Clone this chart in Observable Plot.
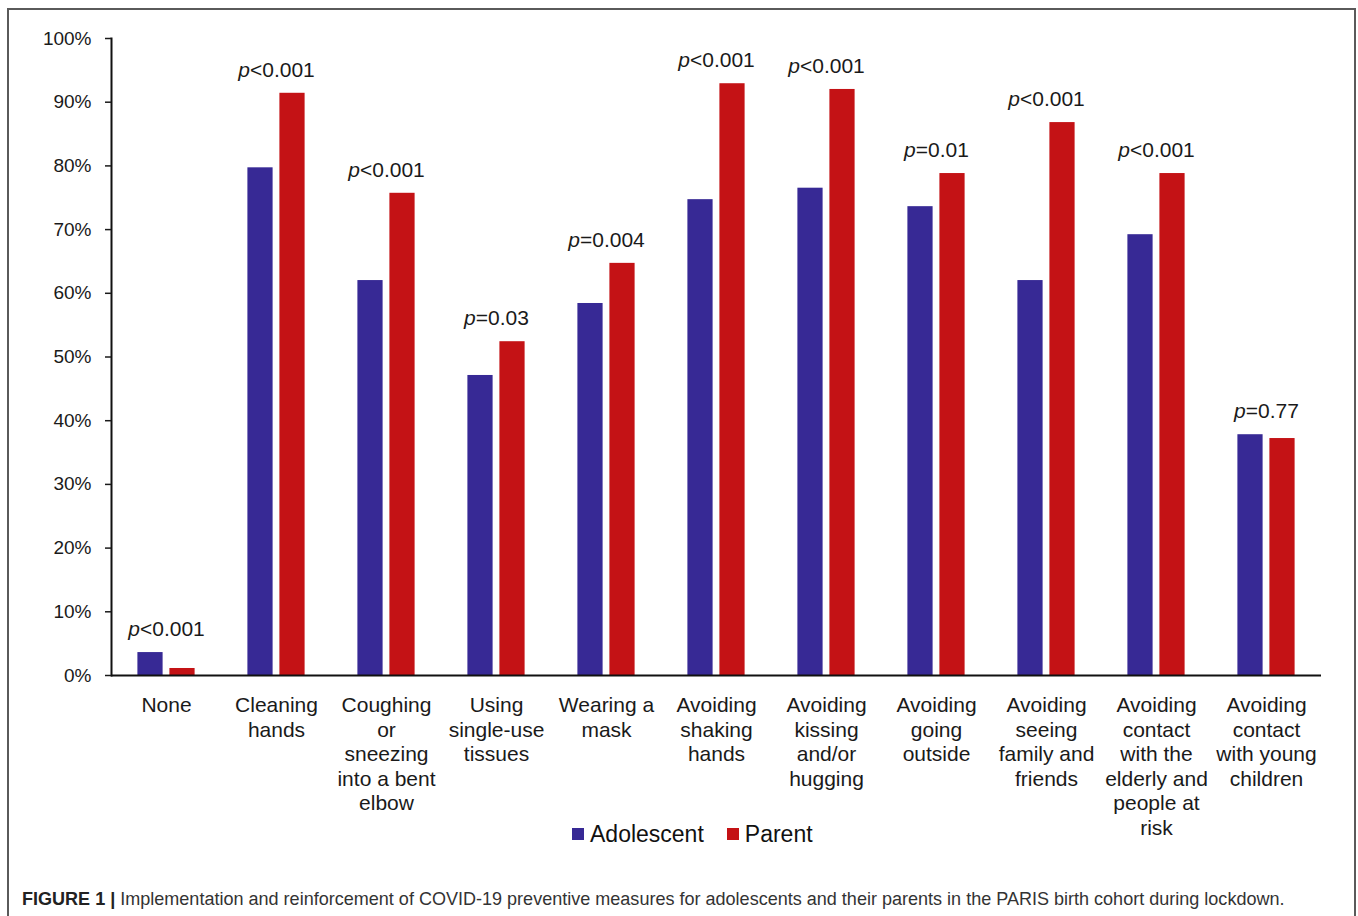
<!DOCTYPE html>
<html>
<head>
<meta charset="utf-8">
<script src="https://cdn.jsdelivr.net/npm/d3@7"></script>
<script src="https://cdn.jsdelivr.net/npm/@observablehq/plot@0.6"></script>
<style>
  html, body { margin: 0; padding: 0; background: #fff; }
  #wrap { position: relative; width: 1358px; height: 916px; overflow: hidden; }
  #frame { position: absolute; left: 7px; top: 8px; width: 1349px; height: 940px;
           border: 2px solid #5a5a5a; border-bottom: none; box-sizing: border-box; }
  #chart { position: absolute; left: 0; top: 0; }
  #legend { position: absolute; left: 572px; top: 822px; display: flex; align-items: center;
            font-family: "Liberation Sans", Arial, sans-serif; font-size: 23px; line-height: 24px; color: #111; }
  #legend .sw { display: inline-block; width: 12px; height: 12px; margin-right: 6px; }
  #legend .item { display: flex; align-items: center; margin-right: 23px; }
  #caption { position: absolute; left: 22px; top: 889px; font-family: "Liberation Sans", Arial, sans-serif;
             font-size: 18.05px; line-height: 20px; color: #333; white-space: nowrap; }
  #caption b { color: #222; }
</style>
</head>
<body>
<div id="wrap">
  <div id="frame"></div>
  <div id="chart"></div>
  <div id="legend"></div>
  <div id="caption"><b>FIGURE 1 |</b> Implementation and reinforcement of COVID-19 preventive measures for adolescents and their parents in the PARIS birth cohort during lockdown.</div>
</div>
<script>
const categories = [
  "None", "Cleaning hands", "Coughing or sneezing into a bent elbow", "Using single-use tissues",
  "Wearing a mask", "Avoiding shaking hands", "Avoiding kissing and/or hugging", "Avoiding going outside",
  "Avoiding seeing family and friends", "Avoiding contact with the elderly and people at risk",
  "Avoiding contact with young children"
];
const tickLabels = [
  "None", "Cleaning\nhands", "Coughing\nor\nsneezing\ninto a bent\nelbow", "Using\nsingle-use\ntissues",
  "Wearing a\nmask", "Avoiding\nshaking\nhands", "Avoiding\nkissing\nand/or\nhugging", "Avoiding\ngoing\noutside",
  "Avoiding\nseeing\nfamily and\nfriends", "Avoiding\ncontact\nwith the\nelderly and\npeople at\nrisk",
  "Avoiding\ncontact\nwith young\nchildren"
];
const adolescent = [3.6, 79.7, 62.0, 47.1, 58.4, 74.7, 76.5, 73.6, 62.0, 69.2, 37.8];
const parent     = [1.1, 91.4, 75.7, 52.4, 64.7, 92.9, 92.0, 78.8, 86.8, 78.8, 37.2];
const pValues = ["<0.001", "<0.001", "<0.001", "=0.03", "=0.004", "<0.001", "<0.001", "=0.01", "<0.001", "<0.001", "=0.77"];
const seriesNames = ["Adolescent", "Parent"];
const seriesColors = ["#372995", "#c41215"];
const yTicks = [0, 10, 20, 30, 40, 50, 60, 70, 80, 90, 100];

const rows = categories.map((c, i) => ({
  category: c,
  adolescent: adolescent[i],
  parent: parent[i],
  top: Math.max(adolescent[i], parent[i]),
  p: "p" + pValues[i]
}));

const chart = Plot.plot({
  width: 1358,
  height: 845,
  marginLeft: 111,
  marginRight: 37,
  marginTop: 38,
  marginBottom: 170,
  style: { fontFamily: "Liberation Sans, Arial, sans-serif", background: "transparent", color: "#1a1a1a" },
  x: { domain: categories, paddingInner: 0.48, paddingOuter: 0.24, round: false, label: null },
  y: { domain: [0, 100], label: null },
  marks: [
    Plot.barY(rows, { x: "category", y: "adolescent", fill: seriesColors[0], insetRight: 32 }),
    Plot.barY(rows, { x: "category", y: "parent", fill: seriesColors[1], insetLeft: 32 }),
    Plot.ruleY([0], { stroke: "#111", strokeWidth: 2 }),
    Plot.frame({ anchor: "left", stroke: "#111", strokeWidth: 2 }),
    Plot.axisY({ ticks: yTicks, tickFormat: d => d + "%", tickSize: 6, tickPadding: 14, fontSize: 19, label: null, strokeWidth: 1.5 }),
    Plot.axisX({ tickSize: 0, tickPadding: 19, fontSize: 21, lineHeight: 1.17, label: null,
                 tickFormat: d => tickLabels[categories.indexOf(d)] }),
    Plot.text(rows, { x: "category", y: "top", text: "p", dy: -23, fontSize: 21, fill: "#1a1a1a", className: "pval" })
  ]
});

document.getElementById("chart").appendChild(chart);

// italicize the leading "p" of each p-value label
chart.querySelectorAll(".pval text").forEach(el => {
  const t = el.textContent;
  el.textContent = "";
  const ts = document.createElementNS("http://www.w3.org/2000/svg", "tspan");
  ts.setAttribute("font-style", "italic");
  ts.textContent = t.slice(0, 1);
  el.appendChild(ts);
  el.appendChild(document.createTextNode(t.slice(1)));
});

const legend = document.getElementById("legend");
seriesNames.forEach((name, i) => {
  const item = document.createElement("span");
  item.className = "item";
  const sw = document.createElement("span");
  sw.className = "sw";
  sw.style.background = seriesColors[i];
  const lab = document.createElement("span");
  lab.textContent = name;
  item.appendChild(sw);
  item.appendChild(lab);
  legend.appendChild(item);
});
</script>
</body>
</html>
